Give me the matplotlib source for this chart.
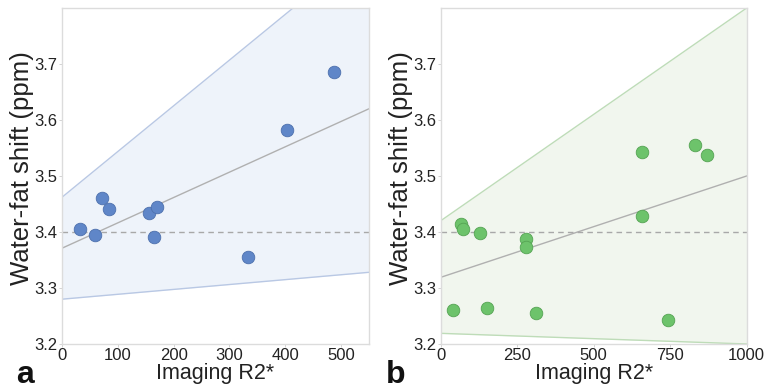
import matplotlib
matplotlib.use("Agg")
import matplotlib.pyplot as plt
import numpy as np

plt.rcParams['font.family'] = ['Liberation Sans', 'DejaVu Sans']

# Panel a data
a_x = [33, 59, 72, 85, 156, 171, 164, 334, 404, 487]
a_y = [3.406, 3.395, 3.460, 3.441, 3.434, 3.444, 3.391, 3.356, 3.583, 3.686]
a_fit = (3.371, 3.620)      # fitted line at x = 0 and x = 550
a_upper = (3.462, 3.911)    # upper bound at x = 0 and x = 550
a_lower = (3.280, 3.328)    # lower bound at x = 0 and x = 550
a_xlim = (0, 550)
a_xticks = [0, 100, 200, 300, 400, 500]

# Panel b data
b_x = [39, 68, 72, 130, 153, 279, 278, 312, 659, 658, 744, 832, 870]
b_y = [3.261, 3.415, 3.406, 3.399, 3.264, 3.388, 3.373, 3.256, 3.542, 3.428,
       3.242, 3.556, 3.537]
b_fit = (3.319, 3.500)
b_upper = (3.420, 3.800)
b_lower = (3.219, 3.200)
b_xlim = (0, 1000)
b_xticks = [0, 250, 500, 750, 1000]

yticks = [3.2, 3.3, 3.4, 3.5, 3.6, 3.7]
ylim = (3.2, 3.8)
ref_line = 3.4

fig = plt.figure(figsize=(7.68, 3.9), dpi=100)
ax_a = fig.add_axes([0.0807, 0.118, 0.3997, 0.8615])
ax_b = fig.add_axes([0.5738, 0.118, 0.3984, 0.8615])

panels = [
    (ax_a, a_x, a_y, a_fit, a_upper, a_lower, a_xlim, a_xticks, 'a', 0.021,
     '#5f86c8', '#4d70ad', '#eef3fa', '#b9c8e4'),
    (ax_b, b_x, b_y, b_fit, b_upper, b_lower, b_xlim, b_xticks, 'b', 0.502,
     '#6dc36b', '#55a353', '#f1f6ee', '#bedcb8'),
]

for (ax, xs, ys, fit, up, lo, xlim, xticks, letter, lx,
     fc, ec, fill, cil) in panels:
    xx = np.array(xlim, dtype=float)
    ax.fill_between(xx, lo, up, color=fill, zorder=0, linewidth=0)
    ax.plot(xx, up, color=cil, lw=1.0, zorder=1)
    ax.plot(xx, lo, color=cil, lw=1.0, zorder=1)
    ax.plot(xx, fit, color='#b0b0b0', lw=1.0, zorder=1)
    ax.axhline(ref_line, color='#a8a8a8', lw=1.0, ls=(0, (4, 3)), zorder=1)
    ax.scatter(xs, ys, s=82, color=fc, edgecolors=ec, linewidths=0.6, zorder=3)
    ax.set_xlim(*xlim)
    ax.set_ylim(*ylim)
    ax.set_xticks(xticks)
    ax.set_yticks(yticks)
    ax.set_yticklabels([f"{t:.1f}" for t in yticks])
    ax.tick_params(labelsize=12, length=2, width=0.6, color='#cccccc', pad=1,
                   labelcolor='#222222')
    for s in ax.spines.values():
        s.set_color('#dcdcdc')
        s.set_linewidth(1.0)
    ax.set_ylabel('Water-fat shift (ppm)', fontsize=18.5, color='#222222')
    ax.yaxis.set_label_coords(-0.092, 0.524)
    ax.set_xlabel('Imaging R2*', fontsize=15.5, color='#222222', labelpad=0)
    fig.text(lx, 0.018, letter, fontsize=23, fontweight='bold',
             color='#111111', va='baseline', ha='left')

fig.savefig('out.png', dpi=100)
